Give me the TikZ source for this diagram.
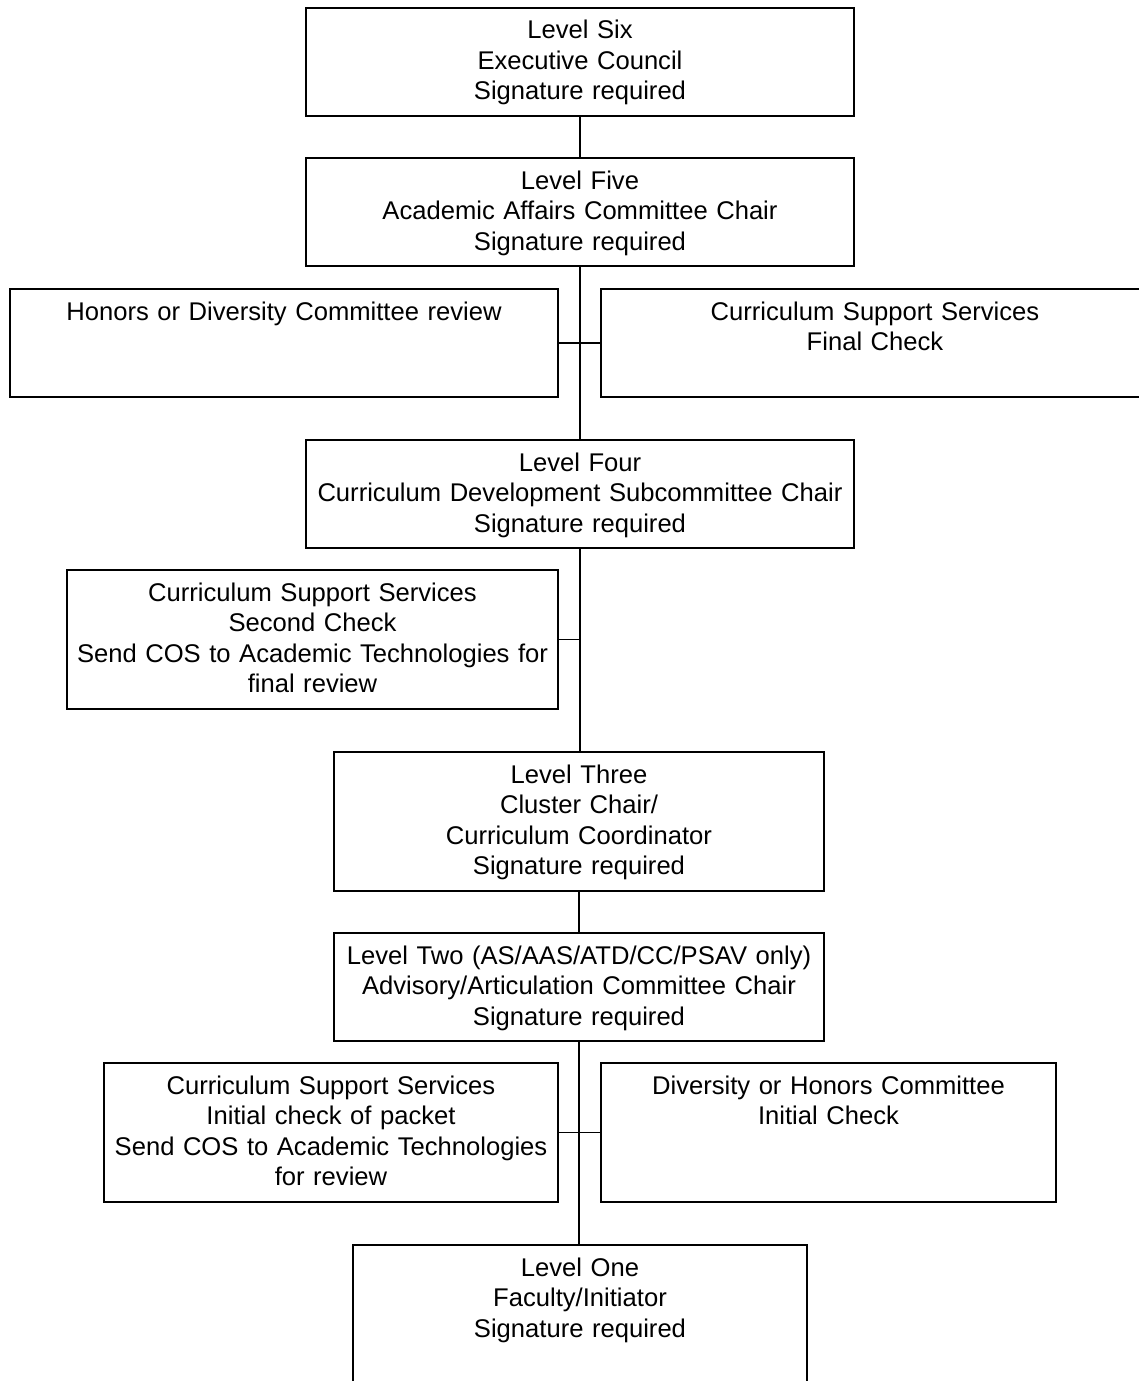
\documentclass[tikz,border=0pt]{standalone}
\usepackage{fontspec}
\setmainfont{Liberation Sans}
\newcommand{\boxfont}{\fontsize{25.6}{30.5}\selectfont}
\tikzset{
  box/.style={draw, line width=1.4pt, inner sep=0pt, align=center,
    text height=31pt, text depth=77pt, font=\boxfont},
  tallbox/.style={box, text depth=108pt}
}
\begin{document}
\begin{tikzpicture}[x=1pt, y=-1pt, line width=1.4pt]
\useasboundingbox (0,0) rectangle (1139,1381);
\clip (0,0) rectangle (1139,1381);
% signature levels
\node[box, text width=548pt] (six) at (580,62) {Level Six\\Executive Council\\Signature required};
\node[box, text width=548pt] (five) at (580,212) {Level Five\\Academic Affairs Committee Chair\\Signature required};
\node[box, text width=548pt] (four) at (580,494) {Level Four\\Curriculum Development Subcommittee Chair\\Signature required};
\node[tallbox, text width=490pt] (three) at (579,821.5) {Level Three\\Cluster Chair/\\Curriculum Coordinator\\Signature required};
\node[box, text width=490pt] (two) at (579,987) {Level Two (AS/AAS/ATD/CC/PSAV only)\\Advisory/Articulation Committee Chair\\Signature required};
\node[tallbox, text width=454pt] (one) at (580,1314.5) {Level One\\Faculty/Initiator\\Signature required};
% checks beside the line
\node[box, text width=548pt] (honors) at (284,343) {Honors or Diversity Committee review};
\node[box, text width=548pt] (final) at (875,343) {Curriculum Support Services\\Final Check};
\node[tallbox, text width=491pt] (second) at (312.5,639.5) {Curriculum Support Services\\Second Check\\Send COS to Academic Technologies for\\final review};
\node[tallbox, text width=454pt] (initial) at (331,1132.5) {Curriculum Support Services\\Initial check of packet\\Send COS to Academic Technologies\\for review};
\node[tallbox, text width=455pt] (diversity) at (828.5,1132.5) {Diversity or Honors Committee\\Initial Check};
% connectors
\draw (six) -- (five);
\draw (five) -- (four);
\draw (four.south) -- (three.north -| four.south);
\draw (three) -- (two);
\draw (two.south) -- (one.north -| two.south);
\draw (honors) -- (final);
\draw (second.east) -- (second.east -| four.south);
\draw (initial) -- (diversity);
\end{tikzpicture}
\end{document}
